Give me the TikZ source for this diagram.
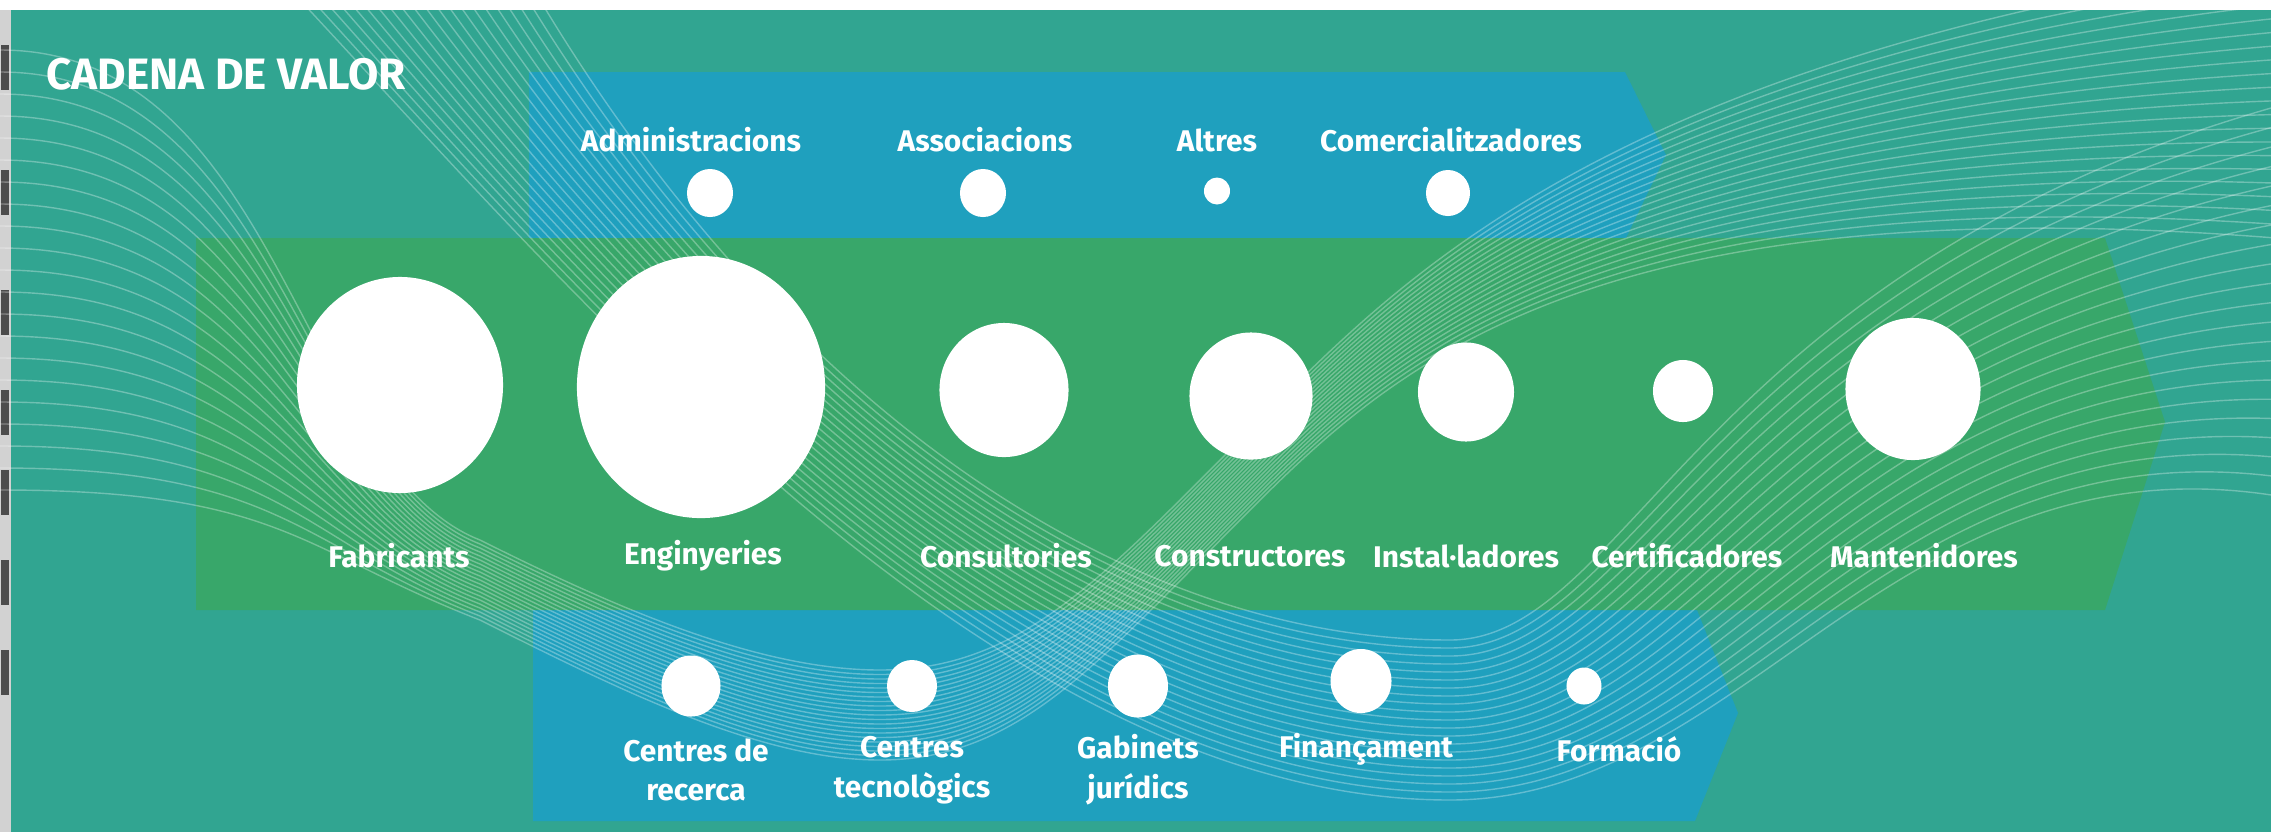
\documentclass[tikz,border=0pt]{standalone}
\usepackage{fontspec}
\setmainfont{Fira Sans}
\usetikzlibrary{shapes.geometric,positioning}

\definecolor{fonsteal}{HTML}{31A591}
\definecolor{bandgreen}{HTML}{38A76A}
\definecolor{bandblue}{HTML}{1FA0BE}
\definecolor{vora}{HTML}{D2D2D2}

\begin{document}
\begin{tikzpicture}[
    x=0.01cm, y=-0.01cm,
    dot/.style={ellipse, fill=white, draw=none, inner sep=0pt},
    lbl/.style={text=white, font=\fontsize{8.5}{11.3}\selectfont\bfseries, align=center, inner sep=0pt},
    titol/.style={text=white, font=\fontsize{12.5}{14}\selectfont\bfseries, inner sep=0pt, anchor=west},
    wave/.style={white, opacity=0.3, line width=0.4pt},
]

% ====== Fons ======
\fill[fonsteal] (0,0) rectangle (2271,832);
\useasboundingbox (0,0) rectangle (2271,832);
\fill[white] (0,0) rectangle (2271,10);
\fill[vora] (0,10) rectangle (11,832);
\foreach \y in {45,170,290,390,470,560,650}
    \fill[black!70] (1,\y) rectangle (9,{\y+45});

% ====== Bandes ======
\fill[bandblue] (529,72) -- (1625,72) -- (1666,155) -- (1625,240) -- (529,240) -- cycle;
\fill[bandblue] (533,605) -- (1695,605) -- (1738,713) -- (1695,821) -- (533,821) -- cycle;
\fill[bandgreen] (196,238) -- (2105,238) -- (2165,422) -- (2105,610) -- (196,610) -- cycle;

% ====== Linies ======
\foreach \i in {0,...,20}
    \draw[wave] ({300+12*\i},0) .. controls ({580+10*\i},{300+5*\i}) and ({1000+6*\i},{800-8*\i}) .. (1450,{800-8*\i})
        .. controls ({1750-6*\i},{800-8*\i}) and ({1900-10*\i},{420-8*\i}) .. (2300,{500-20*\i});
\foreach \i in {0,...,20}
    \draw[wave] (0,{50+22*\i}) .. controls (280,{50+22*\i}) and (300,{470+4*\i}) .. (480,{540+4*\i})
        .. controls (620,{610+4*\i}) and (760,{670+4.5*\i}) .. (880,{670+4.5*\i})
        .. controls (1020,{670+4.5*\i}) and (1100,{580+4*\i}) .. (1250,{430+4*\i})
        .. controls (1400,{280+4*\i}) and (1600,{60+6*\i}) .. (2300,{-40+14*\i});

% ====== Titol ======
\node[titol] (titol) at (46,74) {CADENA DE VALOR};

% ====== Entorn superior ======
\node[dot, minimum width=0.46cm, minimum height=0.48cm] (admin) at (710,193) {};
\node[dot, minimum width=0.46cm, minimum height=0.48cm] (assoc) at (983,193) {};
\node[dot, minimum width=0.26cm, minimum height=0.27cm] (altres) at (1217,191) {};
\node[dot, minimum width=0.44cm, minimum height=0.46cm] (comer) at (1448,193) {};
\node[lbl] (adminL) at (691,140) {Administracions};
\node[lbl] (assocL) at (985,140) {Associacions};
\node[lbl] (altresL) at (1217,140) {Altres};
\node[lbl] (comerL) at (1451,140) {Comercialitzadores};

% ====== Cadena principal ======
\node[dot, minimum width=2.06cm, minimum height=2.16cm] (fab) at (400,385) {};
\node[dot, minimum width=2.48cm, minimum height=2.62cm] (eng) at (701,387) {};
\node[dot, minimum width=1.29cm, minimum height=1.34cm] (cons) at (1004,390) {};
\node[dot, minimum width=1.23cm, minimum height=1.27cm] (constr) at (1251,396) {};
\node[dot, minimum width=0.96cm, minimum height=0.99cm] (inst) at (1466,392) {};
\node[dot, minimum width=0.60cm, minimum height=0.62cm] (cert) at (1683,391) {};
\node[dot, minimum width=1.35cm, minimum height=1.42cm] (mant) at (1913,389) {};
\node[lbl] (fabL) at (399,556) {Fabricants};
\node[lbl] (engL) at (703,556) {Enginyeries};
\node[lbl] (consL) at (1006,556) {Consultories};
\node[lbl] (constrL) at (1250,556) {Constructores};
\node[lbl] (instL) at (1466,556) {Instal·ladores};
\node[lbl] (certL) at (1687,556) {Certificadores};
\node[lbl] (mantL) at (1924,556) {Mantenidores};

% ====== Entorn inferior ======
\node[dot, minimum width=0.59cm, minimum height=0.61cm] (recer) at (691,686) {};
\node[dot, minimum width=0.50cm, minimum height=0.52cm] (tecno) at (912,686) {};
\node[dot, minimum width=0.60cm, minimum height=0.63cm] (gabin) at (1138,686) {};
\node[dot, minimum width=0.61cm, minimum height=0.64cm] (finan) at (1361,681) {};
\node[dot, minimum width=0.35cm, minimum height=0.37cm] (forma) at (1584,686) {};
\node[lbl] (recerL) at (696,770) {Centres de\\recerca};
\node[lbl] (tecnoL) at (912,770) {Centres\\tecnològics};
\node[lbl] (gabinL) at (1138,770) {Gabinets\\jurídics};
\node[lbl] (finanL) at (1366,749) {Finançament};
\node[lbl] (formaL) at (1619,749) {Formació};

\end{tikzpicture}
\end{document}
